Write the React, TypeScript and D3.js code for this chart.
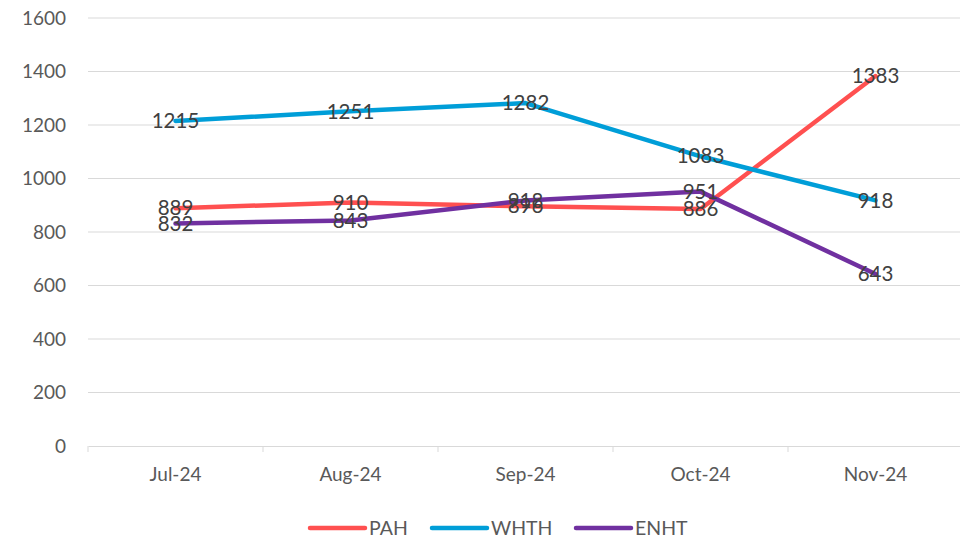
import { useRef, useEffect } from "react";
import * as d3 from "d3";

const months = ["Jul-24", "Aug-24", "Sep-24", "Oct-24", "Nov-24"];
const pah = [889, 910, 896, 886, 1383];
const whth = [1215, 1251, 1282, 1083, 918];
const enht = [832, 843, 918, 951, 643];
const yTicks = [0, 200, 400, 600, 800, 1000, 1200, 1400, 1600];

const series = [
  { name: "PAH", values: pah, color: "#FF5050" },
  { name: "WHTH", values: whth, color: "#009ED8" },
  { name: "ENHT", values: enht, color: "#7030A0" },
];

const W = 960;
const H = 542;
const FONT = "Lato, 'Open Sans', sans-serif";

function App() {
  const svgRef = useRef<SVGSVGElement>(null);

  useEffect(() => {
    const svg = d3.select(svgRef.current);
    svg.selectAll("*").remove();

    const left = 88;
    const right = 963;
    const top = 18;
    const bottom = 446;

    const x = d3.scaleBand().domain(months).range([left, right]);
    const y = d3.scaleLinear().domain([0, 1600]).range([bottom, top]);

    // gridlines
    svg
      .append("g")
      .selectAll("line")
      .data(yTicks.filter((t) => t > 0))
      .join("line")
      .attr("x1", left)
      .attr("x2", right)
      .attr("y1", (d) => y(d))
      .attr("y2", (d) => y(d))
      .attr("stroke", "#d9d9d9")
      .attr("stroke-width", 1);

    // y labels
    svg
      .append("g")
      .selectAll("text")
      .data(yTicks)
      .join("text")
      .attr("x", 66)
      .attr("y", (d) => y(d))
      .attr("dy", "0.35em")
      .attr("text-anchor", "end")
      .attr("font-family", FONT)
      .attr("font-size", 19)
      .attr("fill", "#595959")
      .text((d) => d);

    // x axis
    const xAxis = d3.axisBottom(x).tickSize(0).tickPadding(22);
    const gx = svg
      .append("g")
      .attr("transform", `translate(0,${bottom})`)
      .call(xAxis);
    gx.select(".domain").attr("stroke", "#d9d9d9");
    gx.selectAll("text")
      .attr("font-family", FONT)
      .attr("font-size", 19)
      .attr("fill", "#595959");
    // boundary ticks
    const bounds = months.map((m) => x(m) as number).concat([right]);
    gx.append("g")
      .selectAll("line")
      .data(bounds)
      .join("line")
      .attr("x1", (d) => d)
      .attr("x2", (d) => d)
      .attr("y1", 0)
      .attr("y2", 6)
      .attr("stroke", "#d9d9d9");

    const cx = (m: string) => (x(m) as number) + x.bandwidth() / 2;

    const lineGen = d3
      .line<number>()
      .x((_, i) => cx(months[i]))
      .y((d) => y(d));

    svg
      .append("g")
      .selectAll("path")
      .data(series)
      .join("path")
      .attr("d", (s) => lineGen(s.values))
      .attr("fill", "none")
      .attr("stroke", (s) => s.color)
      .attr("stroke-width", 4.5)
      .attr("stroke-linejoin", "round")
      .attr("stroke-linecap", "round");

    // data labels, centred on the points like the original
    series.forEach((s) => {
      svg
        .append("g")
        .selectAll("text")
        .data(s.values)
        .join("text")
        .attr("x", (_, i) => cx(months[i]))
        .attr("y", (d) => y(d))
        .attr("dy", "0.35em")
        .attr("text-anchor", "middle")
        .attr("font-family", FONT)
        .attr("font-size", 20.5)
        .attr("fill", "#404040")
        .text((d) => d);
    });

    // legend
    const legendX = [310, 432, 576];
    const lg = svg
      .append("g")
      .selectAll("g")
      .data(series)
      .join("g")
      .attr("transform", (_, i) => `translate(${legendX[i]},528)`);
    lg.append("line")
      .attr("x1", 0)
      .attr("x2", 55)
      .attr("stroke", (s) => s.color)
      .attr("stroke-width", 4.5)
      .attr("stroke-linecap", "round");
    lg.append("text")
      .attr("x", 59)
      .attr("dy", "0.35em")
      .attr("font-family", FONT)
      .attr("font-size", 19.5)
      .attr("fill", "#595959")
      .text((s) => s.name);
  }, []);

  return (
    <div style={{ position: "absolute", left: 0, top: 0 }}>
      <svg ref={svgRef} width={W} height={H} style={{ display: "block", background: "#fff" }} />
    </div>
  );
}

export default App;
